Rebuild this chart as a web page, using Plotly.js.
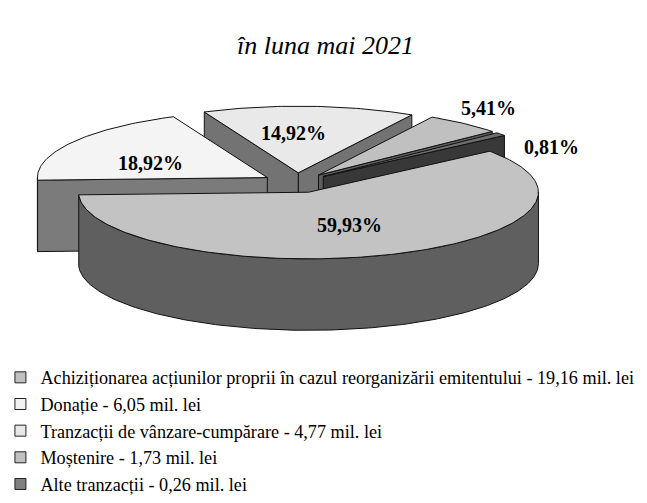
<!DOCTYPE html>
<html><head><meta charset="utf-8">
<script src="https://cdn.plot.ly/plotly-3.0.1.min.js"></script>
<style>html,body{margin:0;padding:0;background:#fff}#chart{width:647px;height:503px}</style>
</head><body><div id="chart"></div>
<script>
// ---- data ----
const categories = [
  "Achiziționarea acțiunilor proprii în cazul reorganizării emitentului",
  "Donație",
  "Tranzacții de vânzare-cumpărare",
  "Moștenire",
  "Alte tranzacții"
];
const valuesMil = [19.16, 6.05, 4.77, 1.73, 0.26];
const subtitleText = "în luna mai 2021";

// ---- styles ----
const topColors    = ["#c3c3c3", "#f4f4f4", "#e9e9e9", "#c0c0c0", "#6e6e6e"];
const sideColors   = ["#5f5f5f", "#7b7b7b", "#737373", "#5f5f5f", "#383838"];
const legendColors = ["#c0c0c0", "#f2f2f2", "#e8e8e8", "#c0c0c0", "#808080"];
const labelR  = [0.52, 0.6, 0.6, 1.3, 1.25];
const labelDX = [0, 0, -11, -20, 6];
const labelDY = [0, 7, 0, 0, 25];

const W = 647, H = 503;
const CX = 295, CY = 192, RX = 231, RY = 70, DEPTH = 75, EXPLODE = 0.15, START = 38;
const FONT = "Liberation Serif, Times New Roman, serif";

const rad = d => d * Math.PI / 180;
const total = valuesMil.reduce((a, b) => a + b, 0);
const fmt = (v, n) => v.toFixed(n).replace('.', ',');

// slices
let cum = 0;
const slices = valuesMil.map((v, i) => {
  const a0 = START - 360 * cum / total;
  cum += v;
  const a1 = START - 360 * cum / total;
  const m = (a0 + a1) / 2;
  const ax = CX + EXPLODE * RX * Math.cos(rad(m));
  const ay = CY - EXPLODE * RY * Math.sin(rad(m));
  return { i, v, a0, a1, m, ax, ay };
});

function pt(s, t, dz) {
  return [s.ax + RX * Math.cos(rad(t)), s.ay - RY * Math.sin(rad(t)) + dz];
}
function arc(s, t0, t1, dz) {
  const n = Math.max(2, Math.ceil(Math.abs(t1 - t0) / 1));
  const out = [];
  for (let k = 0; k <= n; k++) out.push(pt(s, t0 + (t1 - t0) * k / n, dz));
  return out;
}
const traces = [];
function poly(points, fill) {
  const xs = points.map(p => p[0]), ys = points.map(p => p[1]);
  xs.push(xs[0]); ys.push(ys[0]);
  traces.push({
    type: 'scatter', mode: 'lines', x: xs, y: ys, fill: 'toself',
    fillcolor: fill, line: { color: '#111', width: 1 },
    hoverinfo: 'skip', showlegend: false
  });
}

const order = slices.slice().sort((p, q) => Math.sin(rad(q.m)) - Math.sin(rad(p.m)));
order.forEach(s => {
  const lo = s.a1, hi = s.a0;
  // outer (front-facing) wall
  for (let k = Math.floor(lo / 360) - 1; k <= Math.ceil(hi / 360) + 1; k++) {
    const st = Math.max(lo, 360 * k - 180), en = Math.min(hi, 360 * k);
    if (en > st) {
      const top = arc(s, st, en, 0);
      const bot = arc(s, en, st, DEPTH);
      poly(top.concat(bot), sideColors[s.i]);
    }
  }
  // radial walls
  const walls = [];
  if (Math.cos(rad(lo)) > 0) walls.push(lo);
  if (Math.cos(rad(hi)) < 0) walls.push(hi);
  walls.forEach(t => {
    const r0 = pt(s, t, 0), r1 = pt(s, t, DEPTH);
    poly([[s.ax, s.ay], r0, r1, [s.ax, s.ay + DEPTH]], sideColors[s.i]);
  });
  // top face
  poly([[s.ax, s.ay]].concat(arc(s, hi, lo, 0)), topColors[s.i]);
});

// legend entries
categories.forEach((c, i) => {
  traces.push({
    type: 'scatter', mode: 'markers', x: [null], y: [null],
    name: c + " - " + fmt(valuesMil[i], 2) + " mil. lei",
    legendgroup: 'g' + i,
    marker: { symbol: 'square', size: 11, color: legendColors[i], line: { color: '#222', width: 1 } }
  });
});

// percentage labels
const annotations = slices.map(s => {
  const x = s.ax + labelR[s.i] * RX * Math.cos(rad(s.m)) + labelDX[s.i];
  const y = s.ay - labelR[s.i] * RY * Math.sin(rad(s.m)) + labelDY[s.i];
  return {
    x, y, xref: 'x', yref: 'y', showarrow: false,
    text: '<b>' + fmt(s.v / total * 100, 2) + '%</b>',
    font: { family: FONT, size: 20, color: '#000' }
  };
});
annotations.push({
  x: 0.5, y: 48, xref: 'paper', yref: 'y', showarrow: false,
  text: '<i>' + subtitleText + '</i>',
  font: { family: FONT, size: 26, color: '#000' }
});

const layout = {
  width: W, height: H,
  margin: { l: 0, r: 0, t: 0, b: 0 },
  paper_bgcolor: '#fff', plot_bgcolor: '#fff',
  xaxis: { range: [0, W], visible: false, fixedrange: true },
  yaxis: { range: [H, 0], visible: false, fixedrange: true },
  showlegend: true,
  legend: {
    x: -0.004, xanchor: 'left', y: 1 - 377 / H, yanchor: 'top',
    bgcolor: 'rgba(0,0,0,0)', traceorder: 'grouped', tracegroupgap: 0,
    font: { family: FONT, size: 18.2, color: '#000' }
  },
  annotations
};
Plotly.newPlot('chart', traces, layout, { staticPlot: true, displayModeBar: false });
</script>
</body></html>
